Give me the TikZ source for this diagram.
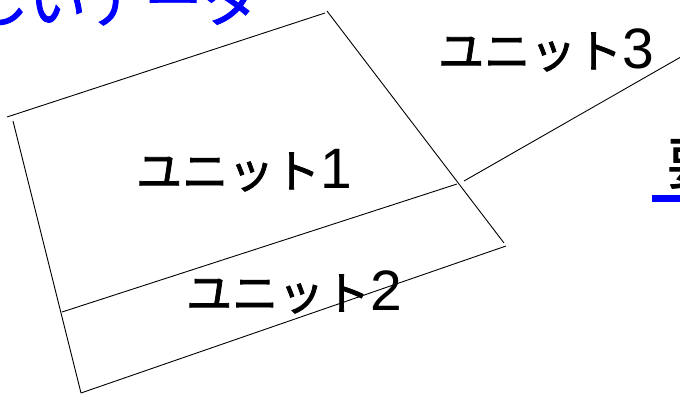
\documentclass[tikz,border=0pt]{standalone}
\usepackage{fontspec}
\setmainfont{Liberation Sans}
\newfontfamily\jpfont[FakeBold=1.6]{Noto Sans CJK JP}
\definecolor{pureblue}{RGB}{0,0,255}
\newcommand\unitlabel[1]{{\jpfont\fontsize{46}{50}\selectfont ユニット}{\fontsize{57}{60}\selectfont #1}}
\tikzset{
  edge/.style={draw=black, line width=0.9pt},
  unittext/.style={anchor=base west, inner sep=0pt, text=black},
}
\begin{document}
\begin{tikzpicture}[x=1pt,y=-1pt]
\useasboundingbox (0,0) rectangle (680,394);
\fill[white] (0,0) rectangle (680,394);
\clip (0,0) rectangle (680,394);
% corner points
\coordinate (tl1) at (7,117);
\coordinate (tr1) at (325,13);
\coordinate (tr2) at (327,11);
\coordinate (br1) at (504,243);
\coordinate (tl2) at (13,121);
\coordinate (bl) at (81,393);
\coordinate (ml) at (62,312);
\coordinate (mr) at (457,184);
\coordinate (br2) at (506,246);
\coordinate (u3a) at (464,181);
\coordinate (u3b) at (700,46);
% edges
\draw[edge] (tl1) -- (tr1);
\draw[edge] (tr2) -- (br1);
\draw[edge] (tl2) -- (bl);
\draw[edge] (ml) -- (mr);
\draw[edge] (bl) -- (br2);
\draw[edge] (u3a) -- (u3b);
% labels
\node[unittext] (u1) at (136,188) {\unitlabel{1}};
\node[unittext] (u2) at (186,310) {\unitlabel{2}};
\node[unittext] (u3) at (438,68) {\unitlabel{3}};
\node[anchor=base west, inner sep=0pt, text=pureblue] (newdata) at (-88,22)
  {\jpfont\fontsize{58}{60}\selectfont 新しいデータ};
\node[anchor=base west, inner sep=0pt, text=black] (req) at (667,184)
  {\jpfont\fontsize{56}{60}\selectfont 要};
\fill[pureblue] (652,195) rectangle (700,202);
\end{tikzpicture}
\end{document}
